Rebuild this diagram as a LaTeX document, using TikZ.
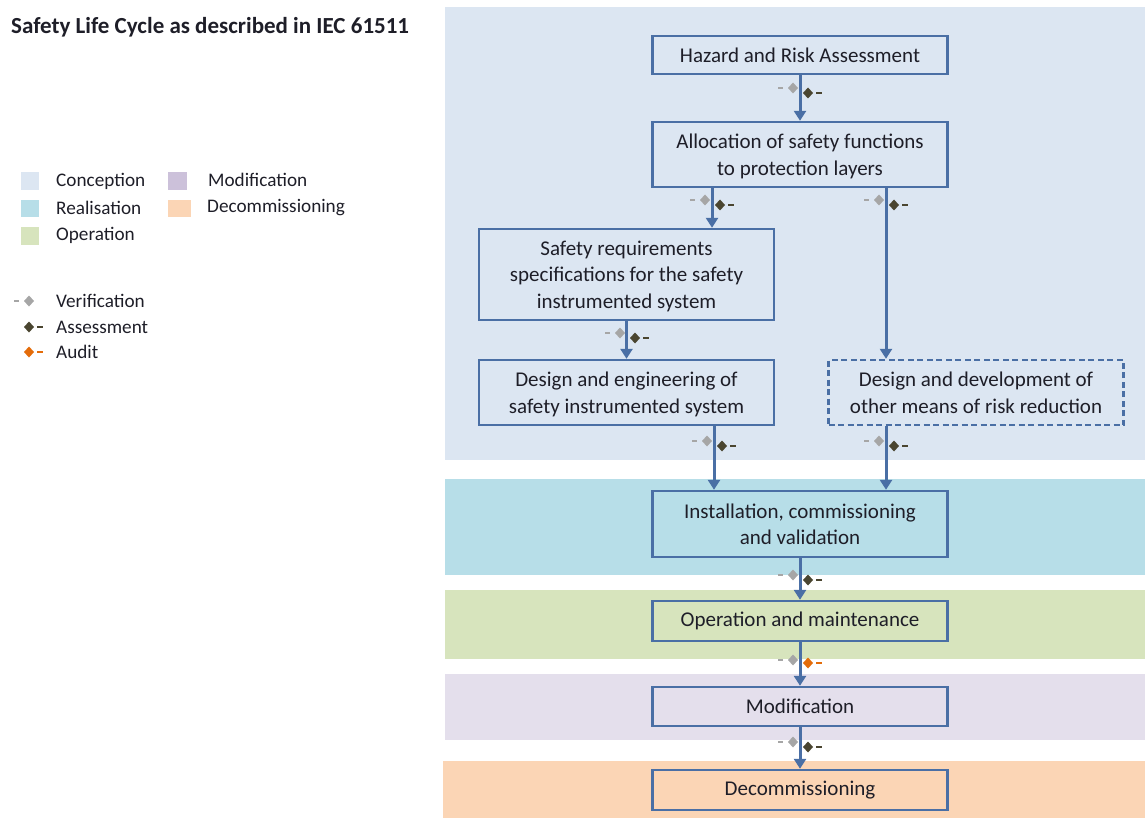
\documentclass[tikz,border=0pt]{standalone}
\usepackage{fontspec}
\setmainfont{Carlito}
\usetikzlibrary{arrows.meta,positioning}
\definecolor{conc}{HTML}{DCE6F2}
\definecolor{real}{HTML}{B7DEE8}
\definecolor{oper}{HTML}{D7E4BD}
\definecolor{modi}{HTML}{E4DFEC}
\definecolor{modisw}{HTML}{CCC1DA}
\definecolor{deco}{HTML}{FBD5B5}
\definecolor{boxblue}{HTML}{4A6FA5}
\definecolor{vgray}{HTML}{A6A6A6}
\definecolor{adark}{HTML}{4A4530}
\definecolor{aorange}{HTML}{E46C0A}
\definecolor{txt}{HTML}{1E1E28}
\tikzset{
box/.style={draw=boxblue,line width=2.4pt,align=center,minimum width=295pt,inner sep=2pt,text=txt,font=\fontsize{21}{26.5}\selectfont},
tallbox/.style={box,text depth=0pt},
dashbox/.style={tallbox,dash pattern=on 6pt off 3.5pt},
arrow/.style={-{Triangle[length=10pt,width=12pt]},line width=3pt,draw=boxblue},
lbl/.style={anchor=west,inner sep=0pt,text=txt,font=\fontsize{19.2}{22}\selectfont},
vmark/.pic={\draw[vgray,line width=1.3pt] (-15,0)--(-10,0); \fill[vgray] (-5,0)--(0,-5.5)--(5,0)--(0,5.5)--cycle;},
amark/.pic={\fill[adark] (-5,0)--(0,-5.5)--(5,0)--(0,5.5)--cycle; \draw[adark,line width=1.3pt] (8,0)--(14,0);},
umark/.pic={\fill[aorange] (-5,0)--(0,-5.5)--(5,0)--(0,5.5)--cycle; \draw[aorange,line width=1.3pt] (8,0)--(14,0);}
}
\begin{document}
\begin{tikzpicture}[x=1pt,y=-1pt]
\useasboundingbox (0,0) rectangle (1145,818);
\fill[conc] (445,7) rectangle (1145,460);
\fill[real] (445,479) rectangle (1145,575);
\fill[oper] (445,590) rectangle (1145,659);
\fill[modi] (445,674) rectangle (1145,740);
\fill[deco] (443,761) rectangle (1145,818);
\node[anchor=west,inner sep=0pt,text=txt,font=\fontsize{23}{26}\selectfont\bfseries] (title) at (11,27) {Safety Life Cycle as described in IEC 61511};
\fill[conc] (21,172) rectangle (39,190);
\fill[real] (21,200) rectangle (39,217);
\fill[oper] (21,227) rectangle (39,245);
\fill[modisw] (168,172) rectangle (187,190);
\fill[deco] (168,200) rectangle (191,217);
\node[lbl] (lconc) at (56,181) {Conception};
\node[lbl] (lreal) at (56,208) {Realisation};
\node[lbl] (loper) at (56,235) {Operation};
\node[lbl] (lmodi) at (208,180) {Modification};
\node[lbl] (ldeco) at (207,208) {Decommissioning};
\pic at (29,301) {vmark};
\pic at (29,327) {amark};
\pic at (29,352) {umark};
\node[lbl] (lverif) at (56,301) {Verification};
\node[lbl] (lassess) at (56,327) {Assessment};
\node[lbl] (laudit) at (56,352) {Audit};
\node[box,minimum height=38pt] (haz) at (800,55) {Hazard and Risk Assessment};
\node[tallbox,minimum height=65pt] (alloc) at (800,154.5) {Allocation of safety functions\\to protection layers};
\node[tallbox,minimum height=91pt] (srs) at (626.5,274.5) {Safety requirements\\specifications for the safety\\instrumented system};
\node[tallbox,minimum height=65pt] (sis) at (626.5,392.5) {Design and engineering of\\safety instrumented system};
\node[dashbox,minimum height=65pt] (other) at (976,392.5) {Design and development of\\other means of risk reduction};
\node[tallbox,minimum height=66pt] (inst) at (800,524) {Installation, commissioning\\and validation};
\node[box,minimum height=40pt] (opm) at (800,621) {Operation and maintenance};
\node[box,minimum height=39pt] (modf) at (800,706.5) {Modification};
\node[box,minimum height=40pt] (decom) at (800,790) {Decommissioning};
\coordinate (c1) at (712,0);
\coordinate (c2) at (886,0);
\coordinate (c3) at (714,0);
\draw[arrow] (haz)--(alloc);
\draw[arrow] (alloc.south -| c1)--(srs.north -| c1);
\draw[arrow] (alloc.south -| c2)--(other.north -| c2);
\draw[arrow] (srs)--(sis);
\draw[arrow] (sis.south -| c3)--(inst.north -| c3);
\draw[arrow] (other.south -| c2)--(inst.north -| c2);
\draw[arrow] (inst)--(opm);
\draw[arrow] (opm)--(modf);
\draw[arrow] (modf)--(decom);
\foreach \x/\y in {800/88,712/200,886/200,627/333,714/441,886/441,800/575,800/742}{
  \pic at (\x-7,\y) {vmark};
  \pic at (\x+8,\y+5) {amark};
}
\pic at (793,660) {vmark};
\pic at (808,663) {umark};
\end{tikzpicture}
\end{document}
